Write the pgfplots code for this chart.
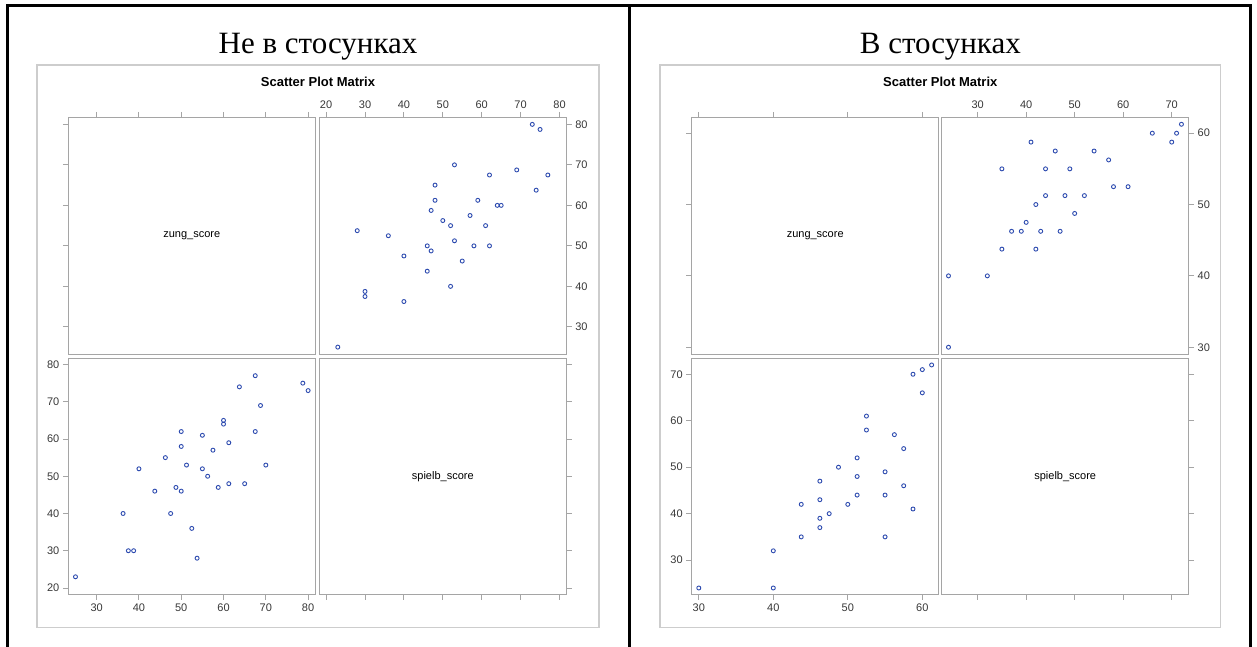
\documentclass[border=0pt]{standalone}
\usepackage{pgfplots}
\pgfplotsset{compat=1.18}
\usepackage{pgfplotstable}
\usepackage{fontspec}
\setmainfont{Liberation Serif}
\newfontfamily\plotsans{Liberation Sans}

\definecolor{cellgray}{RGB}{165,165,165}
\definecolor{framegray}{RGB}{205,205,205}
\definecolor{ticktext}{RGB}{55,55,55}
\definecolor{dotblue}{RGB}{45,75,175}

% zung_score / spielb_score, not in a relationship
\pgfplotstableread{
zung spielb
25 23
36.25 40
37.5 30
38.75 30
40 52
43.75 46
46.25 55
47.5 40
48.75 47
50 62
50 58
50 46
51.25 53
52.5 36
53.75 28
55 61
55 52
56.25 50
57.5 57
58.75 47
60 65
60 64
61.25 59
61.25 48
63.75 74
65 48
67.5 77
67.5 62
68.75 69
70 53
78.75 75
80 73
}\singletable

% zung_score / spielb_score, in a relationship
\pgfplotstableread{
zung spielb
30 24
40 32
40 24
43.75 42
43.75 35
46.25 47
46.25 43
46.25 39
46.25 37
47.5 40
48.75 50
50 42
51.25 52
51.25 48
51.25 44
52.5 61
52.5 58
55 49
55 44
55 35
56.25 57
57.5 54
57.5 46
58.75 70
58.75 41
60 71
60 66
61.25 72
}\couplestable

\pgfplotsset{
  spm cell/.style={
    scale only axis, width=247pt, height=236.5pt, anchor=south west,
    axis line style={draw=cellgray, line width=0.9pt},
    tick style={draw=cellgray, line width=0.9pt},
    tick align=outside, major tick length=5.5pt,
    ticklabel style={font=\plotsans\fontsize{11}{13}\selectfont, text=ticktext},
    /pgf/number format/assume math mode=true,
    minor tick num=0, clip=false,
  },
  spm dots/.style={only marks, mark=o, mark size=2pt,
    mark options={draw=dotblue, line width=0.9pt}},
}
\tikzset{spm name/.style={font=\plotsans\fontsize{11}{13}\selectfont, text=black}}

\begin{document}
\begin{tikzpicture}[x=1pt,y=1pt]
\path[use as bounding box] (0,0) rectangle (1257,647);

% ---------------- left matrix ----------------
% zung_score (diagonal)
\begin{axis}[spm cell, at={(68.3pt,293pt)},
  xmin=23.3, xmax=81.7, ymin=23.3, ymax=81.7,
  xtick={30,40,...,80}, ytick={30,40,...,80},
  xtick pos=upper, ytick pos=left, xticklabels={}, yticklabels={}]
  \node[spm name] at (rel axis cs:0.5,0.5) {zung\_score};
\end{axis}
% spielb (x) vs zung (y)
\begin{axis}[spm cell, at={(319.3pt,293pt)},
  xmin=18.25, xmax=81.75, ymin=23.3, ymax=81.7,
  xtick={20,30,...,80}, ytick={30,40,...,80},
  xtick pos=upper, xticklabel pos=upper,
  ytick pos=right, yticklabel pos=right]
  \addplot[spm dots] table[x=spielb, y=zung] {\singletable};
\end{axis}
% zung (x) vs spielb (y)
\begin{axis}[spm cell, at={(68.3pt,52.5pt)},
  xmin=23.3, xmax=81.7, ymin=18.25, ymax=81.75,
  xtick={30,40,...,80}, ytick={20,30,...,80},
  xtick pos=lower, ytick pos=left]
  \addplot[spm dots] table[x=zung, y=spielb] {\singletable};
\end{axis}
% spielb_score (diagonal)
\begin{axis}[spm cell, at={(319.3pt,52.5pt)},
  xmin=18.25, xmax=81.75, ymin=18.25, ymax=81.75,
  xtick={20,30,...,80}, ytick={20,30,...,80},
  xtick pos=lower, ytick pos=right, xticklabels={}, yticklabels={}]
  \node[spm name] at (rel axis cs:0.5,0.5) {spielb\_score};
\end{axis}

% ---------------- right matrix ----------------
\begin{axis}[spm cell, at={(691.7pt,293pt)},
  xmin=29.05, xmax=62.2, ymin=29.05, ymax=62.2,
  xtick={30,40,...,60}, ytick={30,40,...,60},
  xtick pos=upper, ytick pos=left, xticklabels={}, yticklabels={}]
  \node[spm name] at (rel axis cs:0.5,0.5) {zung\_score};
\end{axis}
\begin{axis}[spm cell, at={(941.7pt,293pt)},
  xmin=22.6, xmax=73.5, ymin=29.05, ymax=62.2,
  xtick={30,40,...,70}, ytick={30,40,...,60},
  xtick pos=upper, xticklabel pos=upper,
  ytick pos=right, yticklabel pos=right]
  \addplot[spm dots] table[x=spielb, y=zung] {\couplestable};
\end{axis}
\begin{axis}[spm cell, at={(691.7pt,52.5pt)},
  xmin=29.05, xmax=62.2, ymin=22.6, ymax=73.5,
  xtick={30,40,...,60}, ytick={30,40,...,70},
  xtick pos=lower, ytick pos=left]
  \addplot[spm dots] table[x=zung, y=spielb] {\couplestable};
\end{axis}
\begin{axis}[spm cell, at={(941.7pt,52.5pt)},
  xmin=22.6, xmax=73.5, ymin=22.6, ymax=73.5,
  xtick={30,40,...,70}, ytick={30,40,...,70},
  xtick pos=lower, ytick pos=right, xticklabels={}, yticklabels={}]
  \node[spm name] at (rel axis cs:0.5,0.5) {spielb\_score};
\end{axis}

% graph borders and titles
\draw[framegray, line width=1.3pt] (37,19.3) rectangle (599,582);
\draw[framegray, line width=1.3pt] (660,19.3) rectangle (1220.7,582);
\node[anchor=base, font=\plotsans\bfseries\fontsize{13}{15}\selectfont] at (318,560) {Scatter Plot Matrix};
\node[anchor=base, font=\plotsans\bfseries\fontsize{13}{15}\selectfont] at (940.3,560) {Scatter Plot Matrix};
\node[anchor=base, font=\fontsize{31}{36}\selectfont] at (318,593) {Не в стосунках};
\node[anchor=base, font=\fontsize{31}{36}\selectfont] at (940.3,593) {В стосунках};

% table rules
\draw[black, line width=3pt] (7.5,0) -- (7.5,641.5) -- (1250.5,641.5) -- (1250.5,0);
\draw[black, line width=3pt] (629.5,641.5) -- (629.5,0);
\end{tikzpicture}
\end{document}
